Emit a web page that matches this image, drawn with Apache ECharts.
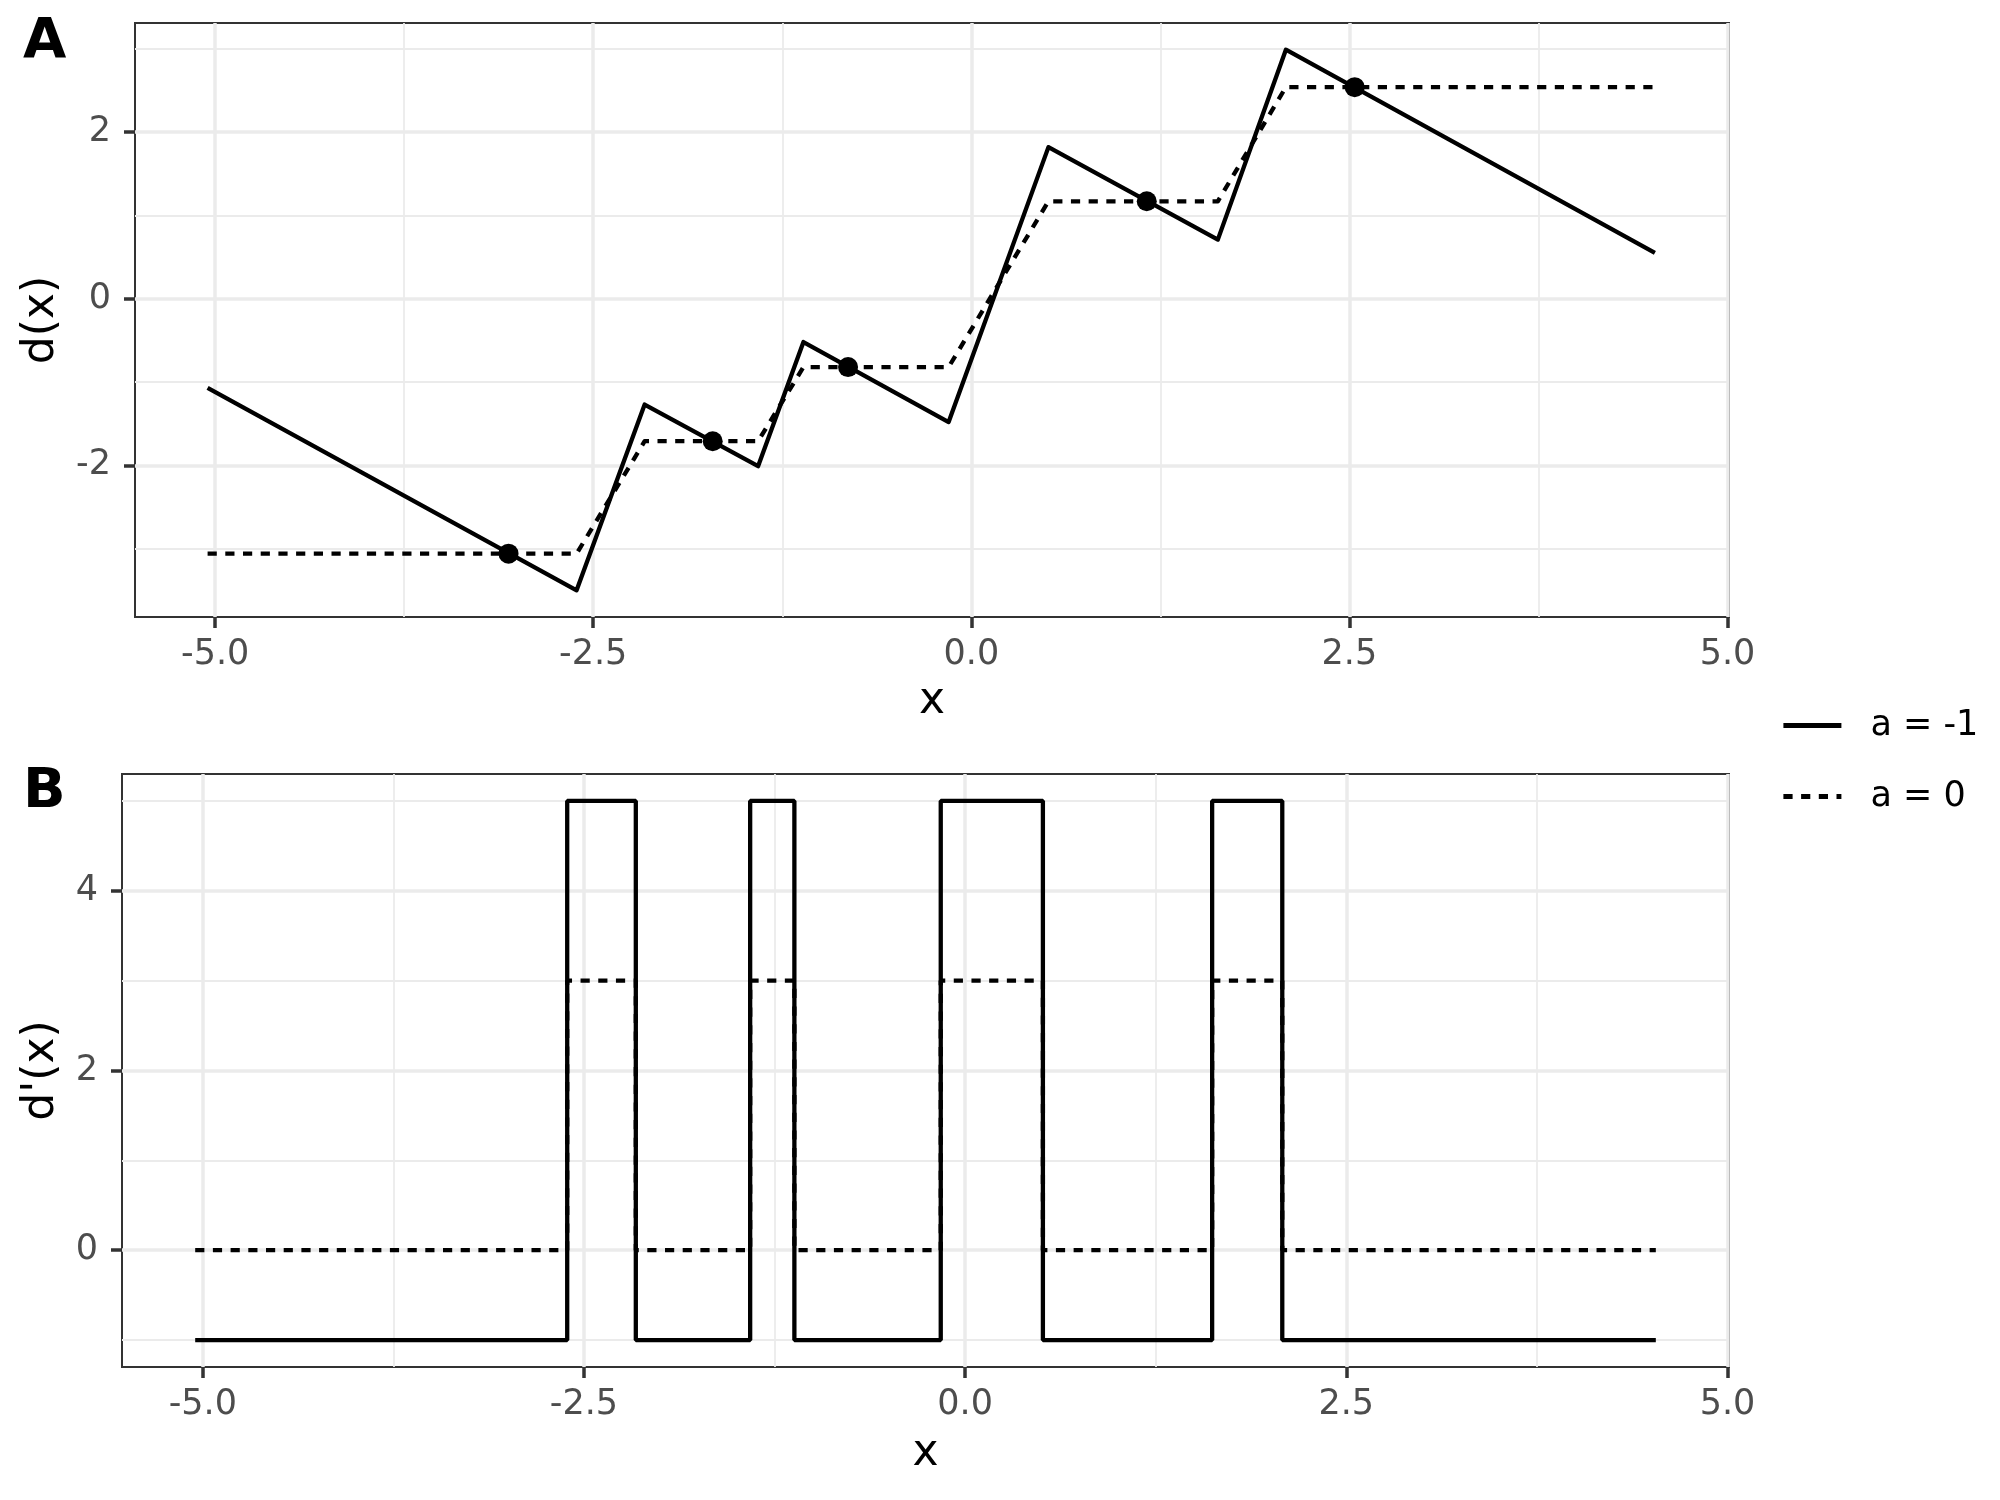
<!DOCTYPE html>
<html>
<head>
<meta charset="utf-8">
<script src="https://cdn.jsdelivr.net/npm/echarts@6/dist/echarts.min.js"></script>
<style>
  html, body { margin: 0; background: #fff; }
  #chart { width: 2000px; height: 1500px; }
</style>
</head>
<body>
<div id="chart"></div>
<script>
  // panel A: kinks of d(x)
  const kinkX   = [-5.05, -2.61, -2.16, -1.41, -1.11, -0.15, 0.51, 1.63, 2.08, 4.52];
  const dSolid  = [-1.07, -3.50, -1.27, -2.01, -0.52, -1.48, 1.82, 0.71, 2.99, 0.55];
  const dDashed = [-3.06, -3.06, -1.71, -1.71, -0.82, -0.82, 1.17, 1.17, 2.54, 2.54];
  const pointX  = [-3.06, -1.71, -0.815, 1.16, 2.535];
  const pointY  = [-3.06, -1.71, -0.82, 1.17, 2.54];

  // panel B: d'(x) is piecewise constant between these x
  const stepX       = [-5.05, -2.61, -2.16, -1.41, -1.12, -0.16, 0.51, 1.62, 2.08, 4.53];
  const derivSolid  = [-1, 5, -1, 5, -1, 5, -1, 5, -1];
  const derivDashed = [0, 3, 0, 3, 0, 3, 0, 3, 0];

  // ticks / grid lines
  const xMajor  = [-5, -2.5, 0, 2.5, 5];
  const xMinor  = [-3.75, -1.25, 1.25, 3.75];
  const yMajorA = [-2, 0, 2];
  const yMinorA = [-3, -1, 1, 3];
  const yMajorB = [0, 2, 4];
  const yMinorB = [-1, 1, 3, 5];

  const FONT = '"DejaVu Sans", "Noto Sans", sans-serif';
  const DASH = [9.2, 8.5];
  const LW = 4.3;

  function pairs(xs, ys) {
    return xs.map((x, i) => [x, ys[i]]);
  }
  // turn segment values into a step path (vertical jumps at the breaks)
  function steps(xs, vals) {
    let out = [];
    for (let i = 0; i < vals.length; i++) {
      out.push([xs[i], vals[i]]);
      out.push([xs[i + 1], vals[i]]);
    }
    return out;
  }

  function majorAxis(grid, min, max, ticks, opts) {
    return Object.assign({
      type: 'value', gridIndex: grid, min: min, max: max,
      axisLine: { show: false, onZero: false },
      axisTick: { show: true, customValues: ticks, length: 11, lineStyle: { color: '#333333', width: 3.5 } },
      axisLabel: { customValues: ticks, color: '#4D4D4D', fontSize: 35, fontFamily: FONT },
      splitLine: { show: true, lineStyle: { color: '#EBEBEB', width: 3.5 } },
      nameLocation: 'middle',
      nameTextStyle: { color: '#000', fontSize: 44, fontFamily: FONT }
    }, opts);
  }
  function minorAxis(grid, min, max, ticks) {
    return {
      type: 'value', gridIndex: grid, min: min, max: max,
      axisLine: { show: false, onZero: false },
      axisTick: { show: false, customValues: ticks },
      axisLabel: { show: false },
      splitLine: { show: true, lineStyle: { color: '#EBEBEB', width: 1.8 } }
    };
  }

  const chart = echarts.init(document.getElementById('chart'), null, { renderer: 'canvas' });
  const xFmt = v => v.toFixed(1);

  const option = {
    animation: false,
    backgroundColor: '#fff',
    grid: [
      { left: 135, top: 23, width: 1594, height: 594, show: true, borderColor: '#333333', borderWidth: 2, containLabel: false, outerBoundsMode: 'none' },
      { left: 122, top: 774, width: 1607, height: 593, show: true, borderColor: '#333333', borderWidth: 2, containLabel: false, outerBoundsMode: 'none' }
    ],
    xAxis: [
      majorAxis(0, -5.53, 5.01, xMajor, { name: 'x', nameGap: 63, axisLabel: { customValues: xMajor, formatter: xFmt, margin: 20, color: '#4D4D4D', fontSize: 35, fontFamily: FONT } }),
      minorAxis(0, -5.53, 5.01, xMinor),
      majorAxis(1, -5.53, 5.01, xMajor, { name: 'x', nameGap: 65, axisLabel: { customValues: xMajor, formatter: xFmt, margin: 20, color: '#4D4D4D', fontSize: 35, fontFamily: FONT } }),
      minorAxis(1, -5.53, 5.01, xMinor)
    ],
    yAxis: [
      majorAxis(0, -3.82, 3.31, yMajorA, { name: 'd(x)', nameGap: 71, axisLabel: { customValues: yMajorA, margin: 24, color: '#4D4D4D', fontSize: 35, fontFamily: FONT } }),
      minorAxis(0, -3.82, 3.31, yMinorA),
      majorAxis(1, -1.3, 5.3, yMajorB, { name: "d'(x)", nameGap: 58, axisLabel: { customValues: yMajorB, margin: 24, color: '#4D4D4D', fontSize: 35, fontFamily: FONT } }),
      minorAxis(1, -1.3, 5.3, yMinorB)
    ],
    legend: {
      data: ['a = -1', 'a = 0'],
      orient: 'vertical',
      left: 1776, top: 703,
      itemWidth: 58, itemHeight: 20, itemGap: 36,
      itemStyle: { opacity: 0 },
      lineStyle: { width: LW + 0.5 },
      textStyle: { color: '#000', fontSize: 35, fontFamily: FONT, padding: [0, 0, 0, 24] }
    },
    graphic: [
      { type: 'text', left: 23, top: 14, style: { text: 'A', font: 'bold 56px ' + FONT, fill: '#000' } },
      { type: 'text', left: 23, top: 764, style: { text: 'B', font: 'bold 56px ' + FONT, fill: '#000' } }
    ],
    series: [
      {
        name: 'a = -1', type: 'line', xAxisIndex: 0, yAxisIndex: 0,
        data: pairs(kinkX, dSolid), symbol: 'none',
        lineStyle: { color: '#000', width: LW, join: 'round' }, itemStyle: { color: '#000' }
      },
      {
        name: 'a = 0', type: 'line', xAxisIndex: 0, yAxisIndex: 0,
        data: pairs(kinkX, dDashed), symbol: 'none',
        lineStyle: { color: '#000', width: LW, type: DASH, join: 'round' }, itemStyle: { color: '#000' }
      },
      {
        type: 'scatter', xAxisIndex: 0, yAxisIndex: 0,
        data: pairs(pointX, pointY), symbolSize: 20,
        itemStyle: { color: '#000', opacity: 1 }
      },
      {
        name: 'a = -1', type: 'line', xAxisIndex: 2, yAxisIndex: 2,
        data: steps(stepX, derivSolid), symbol: 'none',
        lineStyle: { color: '#000', width: LW }, itemStyle: { color: '#000' }
      },
      {
        name: 'a = 0', type: 'line', xAxisIndex: 2, yAxisIndex: 2,
        data: steps(stepX, derivDashed), symbol: 'none',
        lineStyle: { color: '#000', width: LW, type: DASH }, itemStyle: { color: '#000' }
      }
    ]
  };

  chart.setOption(option);
</script>
</body>
</html>
